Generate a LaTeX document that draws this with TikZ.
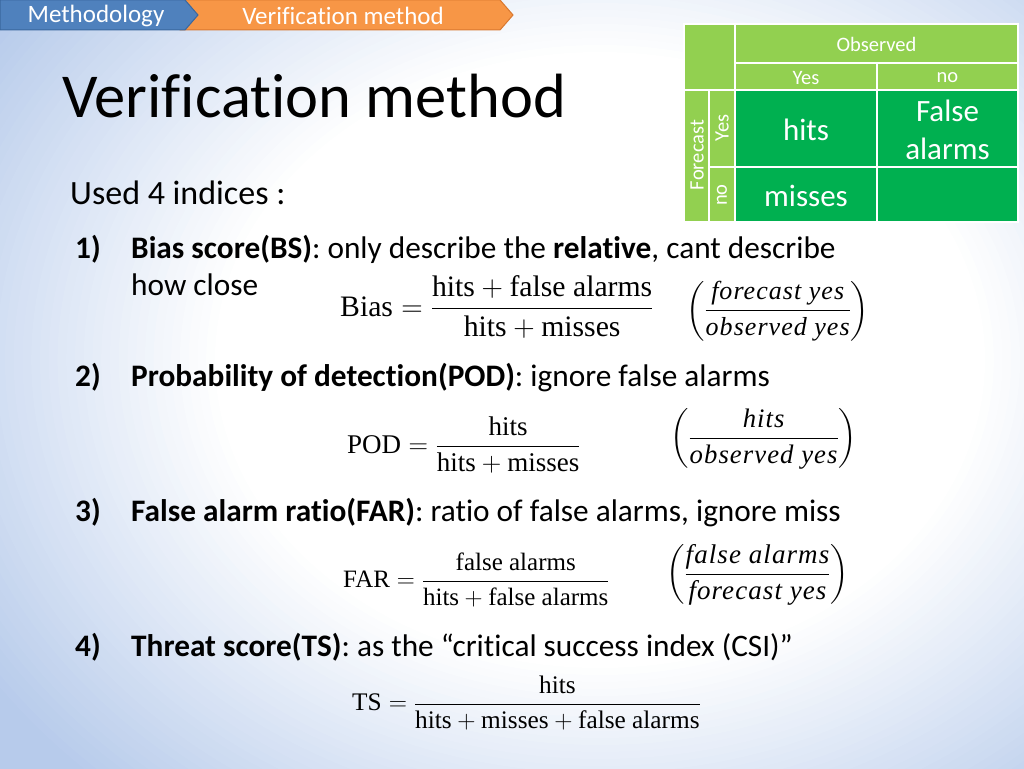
\RequirePackage{fix-cm}
\documentclass[tikz,border=0pt]{standalone}
\usepackage{amsmath}
\usepackage{fontspec}
\setmainfont{Carlito}[Ligatures=NoCommon]
\newfontfamily\tms{Liberation Serif}[Ligatures=NoCommon]
\newfontfamily\tmi{Liberation Serif}[LetterSpace=4.0,Ligatures=NoCommon]
\usetikzlibrary{shapes.geometric}
\definecolor{bgblue}{HTML}{B7CBEB}
\definecolor{crumbblue}{HTML}{4F81BD}
\definecolor{crumbblueD}{HTML}{3A679E}
\definecolor{crumborange}{HTML}{F79646}
\definecolor{crumborangeD}{HTML}{D9782F}
\definecolor{lgreen}{HTML}{92D050}
\definecolor{dgreen}{HTML}{00B050}
\newcommand\tm[1]{\text{\tms #1}}
\newcommand\ti[1]{\text{\tmi\itshape #1}}
\newcommand\fs[1]{\fontsize{#1}{#1}\selectfont}
\tikzset{
  body/.style={anchor=base west, inner sep=0pt, font=\fs{31.3}},
  num/.style={body, font=\fs{31.3}\bfseries},
  formula/.style={anchor=west, inner sep=0pt},
  crumb/.style={text=white, inner sep=0pt, font=\fs{25}},
  hdr/.style={text=white, inner sep=0pt, font=\fs{20.5}},
  cell/.style={text=white, inner sep=0pt, align=center, font=\fontsize{31}{38}\selectfont},
  grid/.style={white, line width=2pt},
}
\begin{document}
\begin{tikzpicture}[x=1pt,y=-1pt]
\useasboundingbox (0,0) rectangle (1024,768);
% background
\fill[bgblue] (-6,-6) rectangle (1030,774);
\foreach \k in {0,...,40}{
  \pgfmathsetmacro\s{1.05-\k*0.0125}
  \pgfmathsetmacro\p{(\s-0.55)*200}
  \fill[bgblue!\p!white] (600,360) ellipse [x radius=700*\s, y radius=560*\s];
}
% breadcrumbs
\fill[crumborange, draw=crumborangeD, line width=1pt] (180,0) -- (500,0) -- (513,15) -- (500,30) -- (180,30) -- cycle;
\fill[crumbblue, draw=crumbblueD, line width=1pt] (0,0) -- (185,0) -- (198,15) -- (185,30) -- (0,30) -- cycle;
\node[crumb] (c1) at (96,16) {Methodology};
\node[crumb] (c2) at (343,16) {Verification method};
% title
\node[anchor=base west, inner sep=0pt, font=\fs{62.5}] (title) at (62,117) {Verification method};
\node[anchor=base west, inner sep=0pt, font=\fs{34}] (used) at (70,204) {Used 4 indices :};
% item 1
\node[num] (n1) at (75,258) {1)};
\node[body] (t1) at (131,258) {\textbf{Bias score(BS)}: only describe the \textbf{relative}, cant describe};
\node[body] (t1b) at (131,295) {how close};
\node[formula, font=\fs{29.7}] (f1) at (340,307) {$\displaystyle \tm{Bias} = \frac{\tm{hits} + \tm{false alarms}}{\tm{hits} + \tm{misses}}$};
\node[formula, font=\fs{26}] (p1) at (686,311) {$\displaystyle \left(\frac{\ti{forecast yes}}{\ti{observed yes}}\right)$};
% item 2
\node[num] (n2) at (75,386) {2)};
\node[body] (t2) at (131,386) {\textbf{Probability of detection(POD)}: ignore false alarms};
\node[formula, font=\fs{27}] (f2) at (347,445) {$\displaystyle \tm{POD} = \frac{\tm{hits}}{\tm{hits} + \tm{misses}}$};
\node[formula, font=\fs{26.7}] (p2) at (670,439) {$\displaystyle \left(\frac{\ti{hits}}{\ti{observed yes}}\right)$};
% item 3
\node[num] (n3) at (75,521) {3)};
\node[body] (t3) at (131,521) {\textbf{False alarm ratio(FAR)}: ratio of false alarms, ignore miss};
\node[formula, font=\fs{25}] (f3) at (343,580) {$\displaystyle \tm{FAR} = \frac{\tm{false alarms}}{\tm{hits} + \tm{false alarms}}$};
\node[formula, font=\fs{27}] (p3) at (666,575) {$\displaystyle \left(\frac{\ti{false alarms}}{\ti{forecast yes}}\right)$};
% item 4
\node[num] (n4) at (75,656) {4)};
\node[body] (t4) at (131,656) {\textbf{Threat score(TS)}: as the “critical success index (CSI)”};
\node[formula, font=\fs{25.3}] (f4) at (352,703) {$\displaystyle \tm{TS} = \frac{\tm{hits}}{\tm{hits} + \tm{misses} + \tm{false alarms}}$};
% table
\fill[lgreen] (684,24) rectangle (1018,90);
\fill[lgreen] (684,90) rectangle (735,222);
\fill[dgreen] (735,90) rectangle (1018,222);
\draw[grid] (684,24) rectangle (1018,222);
\draw[grid] (735,24) -- (735,222);
\draw[grid] (735,63) -- (1018,63);
\draw[grid] (684,90) -- (1018,90);
\draw[grid] (877,63) -- (877,222);
\draw[grid] (709,90) -- (709,222);
\draw[grid] (709,167) -- (1018,167);
\node[hdr] (obs) at (876.5,44) {Observed};
\node[hdr] (oyes) at (806,78) {Yes};
\node[hdr] (ono) at (947.5,78) {no};
\node[hdr, rotate=90] (fc) at (697,155) {Forecast};
\node[hdr, rotate=90] (fyes) at (722,128) {Yes};
\node[hdr, rotate=90] (fno) at (722,195) {no};
\node[cell] (hits) at (806,130) {hits};
\node[cell] (fa) at (947.5,130) {False\\alarms};
\node[cell] (miss) at (806,196) {misses};
\end{tikzpicture}
\end{document}
